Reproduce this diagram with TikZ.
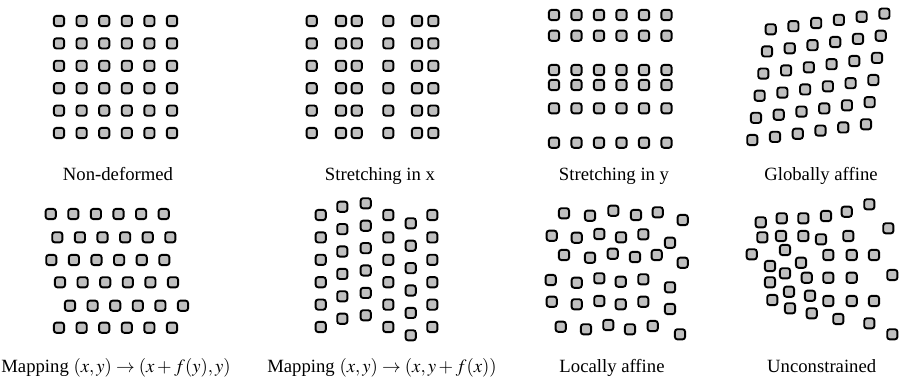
\documentclass[tikz,border=0pt]{standalone}
\usepackage{mathptmx}
\usepackage{fontspec}
\setmainfont{Liberation Serif}
\definecolor{sqgray}{RGB}{192,192,192}
\newcommand\labfont{\fontsize{18.7}{22}\selectfont}
\tikzset{
  sq/.style={draw=black, line width=1.9pt, fill=sqgray, rounded corners=2.6pt,
    minimum size=10.2pt, inner sep=0pt, outer sep=0pt},
  lab/.style={anchor=base, font=\labfont, inner sep=0pt}
}
\begin{document}
\begin{tikzpicture}[x=1pt,y=-1pt]
\useasboundingbox (0,0) rectangle (900,380);
% Panel 1: non-deformed
\foreach \i in {0,...,5}
  \foreach \j in {0,...,5}
    \node[sq] (pa-\i-\j) at ({59+22.6*\i},{21+22.4*\j}) {};
% Panel 2: stretching in x
\foreach \x [count=\i] in {311.7,341,356.7,388.3,417,433.3}
  \foreach \j in {0,...,5}
    \node[sq] (pb-\i-\j) at (\x,{21+22.4*\j}) {};
% Panel 3: stretching in y
\foreach \y [count=\j] in {15,35.7,70,85,108.3,142.7}
  \foreach \i in {0,...,5}
    \node[sq] (pc-\i-\j) at ({554+22.5*\i},\y) {};
% Panel 4: globally affine
\foreach \i in {0,...,5}
  \foreach \j in {0,...,5}
    \node[sq] (pd-\i-\j) at ({752.3+22.74*\i+3.68*\j},{140-3.14*\i-22.14*\j}) {};
% Panel 5: mapping x+f(y)
\foreach \y/\s [count=\j] in {214/50.7,237.3/57.3,260/51.3,282.3/60,305.7/70,327.7/59}
  \foreach \i in {0,...,5}
    \node[sq] (pe-\i-\j) at ({\s+22.6*\i},\y) {};
% Panel 6: mapping y+f(x)
\foreach \x/\s [count=\i] in {320.7/215,342.3/206.7,365.7/203.3,388.3/215,410.7/223.3,432.3/215}
  \foreach \j in {0,...,5}
    \node[sq] (pf-\i-\j) at (\x,{\s+22.4*\j}) {};
% Panel 7: locally affine
\foreach \x/\y [count=\k] in {
  564/213.3,590/215.7,613.3/210.7,636/215,657.7/212.3,682.7/220,
  551.7/235.7,576.7/237.7,599.3/234,621/237.3,643.3/234.3,670/242.7,
  564/255,590/257.7,612.7/253.7,635/257,656.7/255,682.7/262.7,
  550.7/280,576.7/282.7,599.3/278.3,620.7/281.7,643.3/279.3,670/287.3,
  551.7/301.7,576.7/304.3,599.3/301,620.7/304.3,643.3/301.7,670/309,
  560.7/326.7,586/329.3,608.3/325,630/329.3,652.7/326,680/334.3}
  \node[sq] (pg-\k) at (\x,\y) {};
% Panel 8: unconstrained
\foreach \x/\y [count=\k] in {
  760.7/222.3,781.7/218.3,803.3/218.3,826/216,846.7/211.7,869.3/204.3,888.3/228.3,
  762.3/237.3,781/236,803.3/236,821/239.3,848.3/236,
  751.7/254.3,785/250,828.3/255,851.7/255,874/255,
  770/266,801/262.7,785/273.3,806.7/277.7,828.3/277.7,851.7/277.7,892.3/275,
  770/282.3,789/291.7,772.3/300,810/295.7,828.3/301,851.7/301,874/301,
  790/308.3,811.7/313.3,838.3/319,869.3/323.3,892.3/334.3}
  \node[sq] (ph-\k) at (\x,\y) {};
% Labels
\node[lab] (la) at (118,180) {Non-deformed};
\node[lab] (lb) at (380,180) {Stretching in x};
\node[lab] (lc) at (614,180) {Stretching in y};
\node[lab] (ld) at (821,180) {Globally affine};
\node[lab] (le) at (116,372.5) {Mapping $(x,y)\rightarrow(x+f(y),y)$};
\node[lab] (lf) at (382,372.5) {Mapping $(x,y)\rightarrow(x,y+f(x))$};
\node[lab] (lg) at (612,372.5) {Locally affine};
\node[lab] (lh) at (821.7,372.5) {Unconstrained};
\end{tikzpicture}
\end{document}
